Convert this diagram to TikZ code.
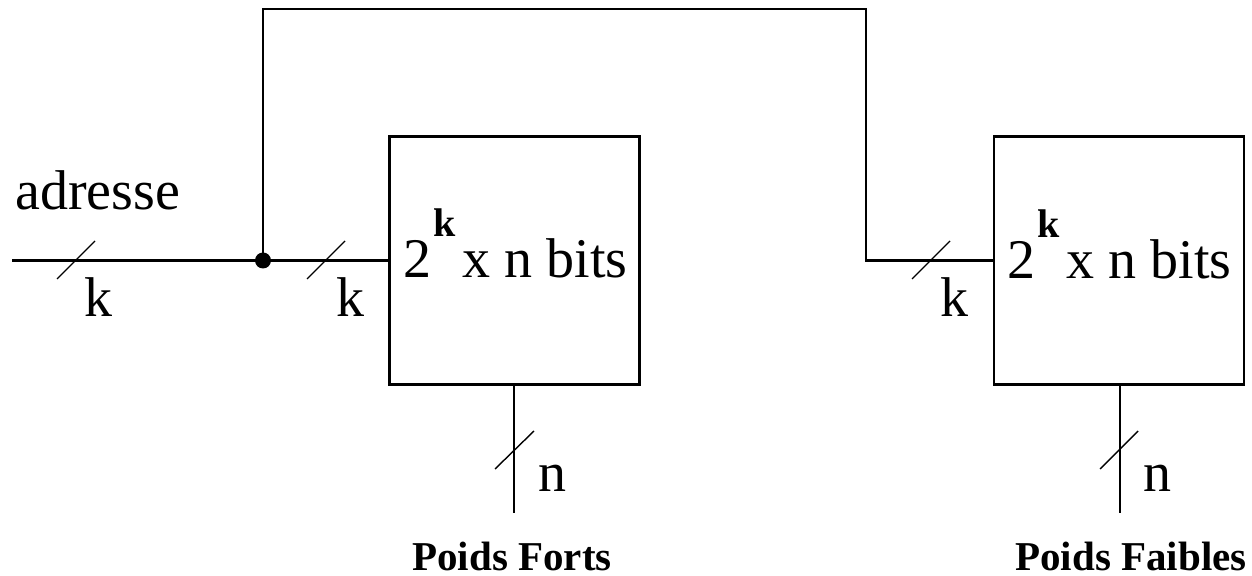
\documentclass[tikz,border=0pt]{standalone}
\usepackage{fontspec}
\setmainfont{Liberation Serif}
\begin{document}
\begin{tikzpicture}[x=0.5pt,y=-0.5pt,
  membox/.style={draw, line width=1.4pt, minimum width=125pt, minimum height=124pt, inner sep=0pt},
  wire/.style={line width=1.1pt},
  busmark/.style={line width=0.7pt},
  lbl/.style={font=\fontsize{28}{30}\selectfont, inner sep=0pt, anchor=base},
  poids/.style={font=\bfseries\fontsize{20.5}{22}\selectfont, inner sep=0pt, anchor=base}]
\useasboundingbox (0,0) rectangle (1252,576);

% memory boxes
\node[membox] (m1) at (514.5,260.5) {};
\node[membox] (m2) at (1119,260.5) {};

% box texts
\node[lbl, anchor=base west] (t1) at (403,278) {2\hspace{1pt}\raisebox{20.5pt}{\bfseries\fontsize{20}{20}\selectfont k}\hspace{3.5pt}x n bits};
\node[lbl, anchor=base west] (t2) at (1007,279) {2\hspace{1pt}\raisebox{20.5pt}{\bfseries\fontsize{20}{20}\selectfont k}\hspace{3.5pt}x n bits};

% address input
\node[lbl, anchor=base west] (adr) at (15,210) {adresse};
\coordinate (in) at (12,260.5);
\coordinate (j) at (263,260.5);
\coordinate (c1) at (263,9);
\coordinate (c2) at (866,9);
\coordinate (c3) at (866,260.5);
\coordinate (o1) at (514,513);
\coordinate (o2) at (1120,513);

\draw[wire] (in) -- (j) -- (m1.west);
\draw[wire] (j) -- (c1) -- (c2) -- (c3) -- (m2.west);
\draw[wire] (m1.south -| o1) -- (o1);
\draw[wire] (m2.south -| o2) -- (o2);
\fill (j) circle[radius=8];

% bus markers
\draw[busmark] (57,279) -- (95,241);
\draw[busmark] (307,279) -- (345,241);
\draw[busmark] (912,279) -- (950,241);
\draw[busmark] (495,469) -- (534,431);
\draw[busmark] (1100,469) -- (1138,431);

% width labels
\node[lbl] (k1) at (98,317) {k};
\node[lbl] (k2) at (350,317) {k};
\node[lbl] (k3) at (954,317) {k};
\node[lbl] (n1) at (552,492) {n};
\node[lbl] (n2) at (1157,492) {n};

% captions
\node[poids] (pf) at (512,570) {Poids Forts};
\node[poids] (pa) at (1131,570) {Poids Faibles};
\end{tikzpicture}
\end{document}
